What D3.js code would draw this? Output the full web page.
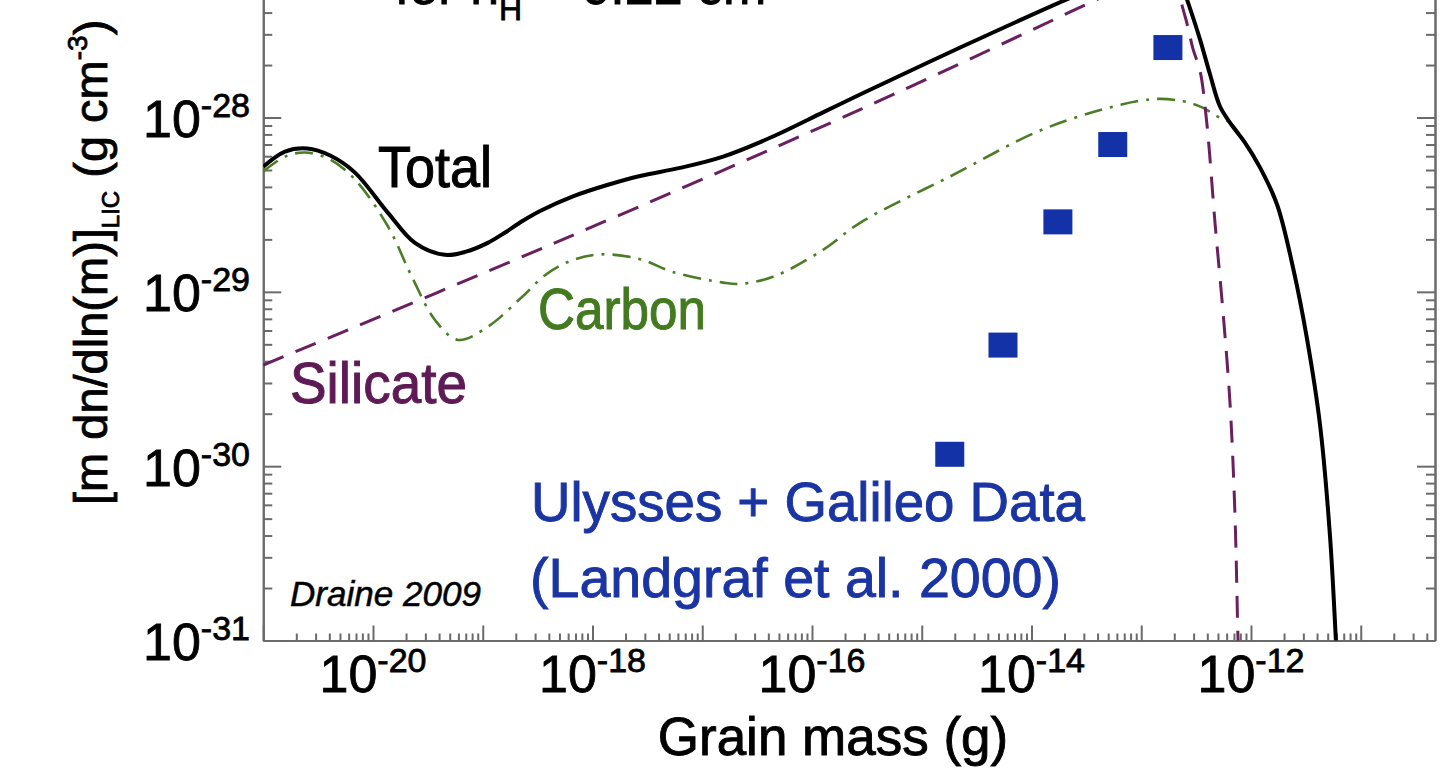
<!DOCTYPE html>
<html>
<head>
<meta charset="utf-8">
<script src="https://cdn.jsdelivr.net/npm/d3@7"></script>
<style>
  html, body { margin: 0; padding: 0; background: #fff; }
  svg { display: block; font-family: "Liberation Sans", Arial, sans-serif; }
</style>
</head>
<body>
<svg id="chart" width="1441" height="783"></svg>
<script>
// ---------------- DATA ----------------
// Grain mass (g)
const totalMass = [1.0e-21, 1.58e-21, 2.51e-21, 4.07e-21, 6.85e-21, 1.37e-20, 2.41e-20, 4.52e-20, 7.03e-20, 1.11e-19,
  1.60e-19, 2.28e-19, 3.33e-19, 6.64e-19, 1.36e-18, 2.71e-18, 6.27e-18, 1.55e-17, 4.41e-17, 1.26e-16, 2.74e-16, 2.24e-15,
  2.09e-14, 6.35e-14, 1.47e-13, 2.24e-13, 2.61e-13, 3.43e-13, 4.23e-13, 5.21e-13, 6.43e-13, 8.81e-13,
  1.21e-12, 1.73e-12, 2.42e-12, 3.24e-12, 4.25e-12, 5.25e-12, 5.94e-12, 6.46e-12];
// [m dn/dln(m)]_LIC (g cm^-3)
const totalValue = [5.22e-29, 6.38e-29, 6.64e-29, 6.05e-29, 4.83e-29, 2.84e-29, 1.91e-29, 1.63e-29, 1.70e-29, 1.91e-29,
  2.19e-29, 2.54e-29, 2.91e-29, 3.53e-29, 4.10e-29, 4.62e-29, 5.14e-29, 5.97e-29, 7.78e-29, 1.07e-28, 1.355e-28, 2.52e-28,
  4.76e-28, 6.38e-28, 7.10e-28, 6.21e-28, 4.76e-28, 2.81e-28, 1.77e-28, 1.16e-28, 9.35e-29, 7.18e-29,
  5.16e-29, 3.16e-29, 1.37e-29, 5.37e-30, 1.74e-30, 3.96e-31, 1.0e-31, 3.47e-32];

const silicateMass = [1.0e-21, 4.54e-19, 2.74e-16, 3.95e-14, 9.77e-14, 1.48e-13, 2.04e-13, 2.51e-13, 2.97e-13,
  3.43e-13, 3.97e-13, 4.70e-13, 5.56e-13, 6.43e-13, 7.14e-13, 7.60e-13, 7.94e-13];
const silicateValue = [3.80e-30, 1.91e-29, 1.11e-28, 4.76e-28, 6.21e-28, 6.38e-28, 5.45e-28, 3.80e-28, 2.46e-28,
  1.86e-28, 9.12e-29, 2.49e-29, 7.67e-30, 2.33e-30, 5.37e-31, 1.08e-31, 4.52e-32];

const carbonMass = [1.0e-21, 1.58e-21, 2.40e-21, 4.07e-21, 6.85e-21, 1.37e-20, 2.26e-20, 3.67e-20, 5.94e-20, 1.11e-19,
  2.28e-19, 3.69e-19, 6.24e-19, 1.17e-18, 2.71e-18, 5.37e-18, 1.55e-17, 2.19e-17, 4.41e-17, 1.26e-16, 2.74e-16,
  1.80e-15, 1.47e-14, 1.19e-13, 2.40e-13, 3.63e-13, 5.01e-13, 6.43e-13, 8.81e-13, 1.21e-12, 1.73e-12,
  2.42e-12, 3.24e-12, 4.25e-12, 5.25e-12, 5.94e-12, 6.46e-12];
const carbonValue = [4.90e-29, 5.97e-29, 6.30e-29, 5.74e-29, 4.41e-29, 2.37e-29, 1.22e-29, 6.90e-30, 5.30e-30, 6.30e-30,
  9.35e-30, 1.245e-29, 1.50e-29, 1.64e-29, 1.54e-29, 1.30e-29, 1.13e-29, 1.11e-29, 1.22e-29, 1.74e-29, 2.49e-29,
  4.58e-29, 8.87e-29, 1.27e-28, 1.24e-28, 1.14e-28, 1.01e-28, 9.35e-29, 7.18e-29, 5.16e-29, 3.16e-29,
  1.37e-29, 5.37e-30, 1.74e-30, 3.96e-31, 1.0e-31, 3.47e-32];

// Ulysses + Galileo data (Landgraf et al. 2000)
const dataMass = [1.8e-15, 5.5e-15, 1.74e-14, 5.5e-14, 1.75e-13];
const dataValue = [1.17e-30, 4.95e-30, 2.52e-29, 7.0e-29, 2.52e-28];

// axis extents and ticks
const xDomain = [1e-21, 4.75e-11];
const yDomain = [1e-31, 1e-27];
const xMajorExp = [-21, -20, -19, -18, -17, -16, -15, -14, -13, -12, -11];
const xLabelExp = [-20, -18, -16, -14, -12];
const yMajorExp = [-31, -30, -29, -28, -27];
const yLabelExp = [-31, -30, -29, -28];

// ---------------- LAYOUT ----------------
const L = 263.25, R = 1435, B = 640.5, T = -56.8;
const svg = d3.select("#chart");
const x = d3.scaleLog().domain(xDomain).range([L, R]);
const y = d3.scaleLog().domain(yDomain).range([B, T]);

const axisColor = "#6a6a6a";
function minors(exps, dom) {
  const out = [];
  exps.forEach(e => { for (let k = 2; k <= 9; k++) { const v = k * Math.pow(10, e); if (v > dom[0] && v < dom[1]) out.push(v); } });
  return out;
}
const xMajors = xMajorExp.map(e => Math.pow(10, e)).filter(v => v >= xDomain[0] && v <= xDomain[1]);
const xMinors = minors(xMajorExp, xDomain);
const yMajors = yMajorExp.map(e => Math.pow(10, e));
const yMinors = minors(yMajorExp, yDomain);

// clip
svg.append("defs").append("clipPath").attr("id", "plotclip")
  .append("rect").attr("x", L).attr("y", T).attr("width", R - L).attr("height", B - T);

function styleAxis(g) {
  g.selectAll("path,line").attr("stroke", axisColor).attr("stroke-width", 2);
  g.selectAll("text").remove();
}
// bottom axis
svg.append("g").attr("transform", `translate(0,${B})`)
  .call(d3.axisBottom(x).tickValues(xMinors).tickSize(-7).tickSizeOuter(0).tickFormat("")).call(styleAxis);
svg.append("g").attr("transform", `translate(0,${B})`)
  .call(d3.axisBottom(x).tickValues(xMajors).tickSize(-15).tickSizeOuter(0).tickFormat("")).call(styleAxis);
// left axis
svg.append("g").attr("transform", `translate(${L},0)`)
  .call(d3.axisLeft(y).tickValues(yMinors).tickSize(-9).tickSizeOuter(0).tickFormat("")).call(styleAxis);
svg.append("g").attr("transform", `translate(${L},0)`)
  .call(d3.axisLeft(y).tickValues(yMajors).tickSize(-18).tickSizeOuter(0).tickFormat("")).call(styleAxis);
// right axis
svg.append("g").attr("transform", `translate(${R},0)`)
  .call(d3.axisRight(y).tickValues(yMinors).tickSize(-9).tickSizeOuter(0).tickFormat("")).call(styleAxis);
svg.append("g").attr("transform", `translate(${R},0)`)
  .call(d3.axisRight(y).tickValues(yMajors).tickSize(-18).tickSizeOuter(0).tickFormat("")).call(styleAxis);

// heavier text, like the reference's medium-weight face
function heavy(sel, color, w) { return sel.attr("fill", color).attr("stroke", color).attr("stroke-width", w).attr("paint-order", "stroke"); }

// tick labels
const xl = svg.append("g").selectAll("text").data(xLabelExp).join("text")
  .attr("x", e => x(Math.pow(10, e))).attr("y", 692)
  .attr("text-anchor", "middle");
heavy(xl, "#000", 0.8);
xl.append("tspan").attr("font-size", 52).text("10");
xl.append("tspan").attr("font-size", 34).attr("dy", -20).text(e => e);

const yl = svg.append("g").selectAll("text").data(yLabelExp).join("text")
  .attr("x", 250).attr("y", e => y(Math.pow(10, e)) + 19.5)
  .attr("text-anchor", "end");
heavy(yl, "#000", 0.8);
yl.append("tspan").attr("font-size", 52).text("10");
yl.append("tspan").attr("font-size", 34).attr("dy", -20).text(e => e);

// axis titles
heavy(svg.append("text").attr("x", 833).attr("y", 755).attr("text-anchor", "middle")
  .attr("font-size", 53).text("Grain mass (g)"), "#000", 0.9);

const yt = svg.append("text").attr("transform", "translate(107,505) rotate(-90)")
  .attr("font-size", 47);
heavy(yt, "#000", 0.8);
yt.append("tspan").text("[m dn/dln(m)]");
yt.append("tspan").attr("font-size", 24).attr("dy", 12).text("LIC");
yt.append("tspan").attr("dy", -12).text(" (g cm");
yt.append("tspan").attr("font-size", 28).attr("dy", -20).text("-3");
yt.append("tspan").attr("dy", 20).text(")");

// top title (cropped at the picture's top edge, as in the reference)
const tt = svg.append("text").attr("x", 395).attr("y", 4).attr("font-size", 52);
heavy(tt, "#000", 0.8);
tt.append("tspan").text("for n");
tt.append("tspan").attr("font-size", 32).attr("dy", 16).text("H");
tt.append("tspan").attr("dy", -16).text(" = 0.22 cm");
tt.append("tspan").attr("font-size", 30).attr("dy", -20).text("-3");

// ---------------- CURVES ----------------
const plot = svg.append("g").attr("clip-path", "url(#plotclip)");
const line = d3.line().x(d => x(d[0])).y(d => y(d[1])).curve(d3.curveCatmullRom.alpha(0.5));
const zip = (a, b) => a.map((v, i) => [v, b[i]]);

plot.append("path").datum(zip(carbonMass, carbonValue)).attr("d", line)
  .attr("fill", "none").attr("stroke", "#4b7d26").attr("stroke-width", 2.6)
  .attr("stroke-dasharray", "18,8,3,8");
plot.append("path").datum(zip(silicateMass, silicateValue)).attr("d", line)
  .attr("fill", "none").attr("stroke", "#6a1f5f").attr("stroke-width", 3)
  .attr("stroke-dasharray", "22,13");
plot.append("path").datum(zip(totalMass, totalValue)).attr("d", line)
  .attr("fill", "none").attr("stroke", "#000").attr("stroke-width", 4);

// data squares
plot.append("g").selectAll("rect").data(zip(dataMass, dataValue)).join("rect")
  .attr("x", d => x(d[0]) - 14.5).attr("y", d => y(d[1]) - 12.5)
  .attr("width", 29).attr("height", 25).attr("fill", "#1332a8");

// ---------------- ANNOTATIONS ----------------
function label(txt, px, py, size, color, len, italic, w) {
  const t = svg.append("text").attr("x", px).attr("y", py).attr("font-size", size).text(txt);
  heavy(t, color, w);
  if (len) t.attr("textLength", len).attr("lengthAdjust", "spacingAndGlyphs");
  if (italic) t.attr("font-style", "italic");
  return t;
}
label("Total", 378, 187, 57, "#000", 114, false, 1);
label("Carbon", 538, 329, 57, "#437a1f", 168, false, 1);
label("Silicate", 290, 403, 57, "#5e1a55", 177, false, 1);
label("Ulysses + Galileo Data", 531, 521, 55, "#1a35a3", 554, false, 0.9);
label("(Landgraf et al. 2000)", 530, 597, 55, "#1a35a3", 531, false, 0.9);
label("Draine 2009", 290, 606, 35, "#000", 191, true, 0.5);
</script>
</body>
</html>
